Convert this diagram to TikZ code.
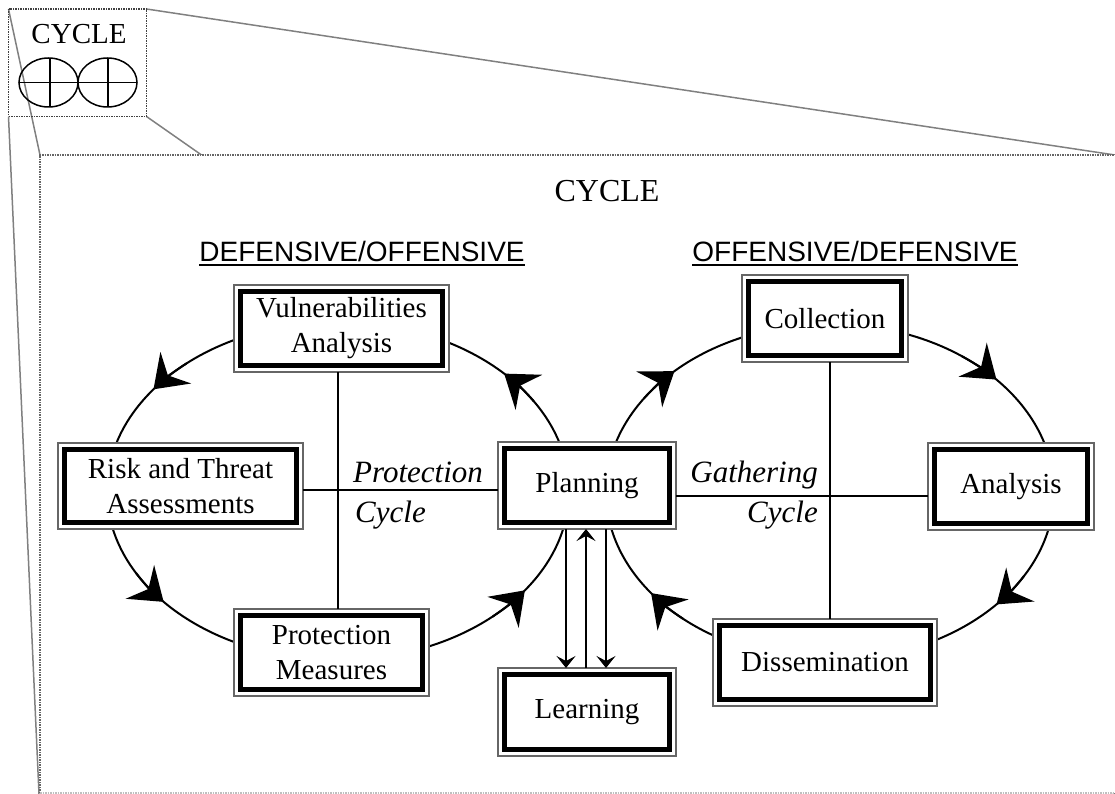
\documentclass[tikz,border=0pt]{standalone}
\usepackage{fontspec}
\setmainfont{Liberation Serif}
\newfontfamily\headfont{Liberation Sans}
\usetikzlibrary{arrows.meta,calc}
\begin{document}
\begin{tikzpicture}[x=1pt,y=-1pt,
  box/.style={draw=black!60, line width=1.6pt, fill=white, inner sep=0pt, outer sep=0pt, align=center,
    font=\fontsize{29}{35}\selectfont,
    path picture={\draw[black,line width=5pt]
      ([shift={(6.3pt,-6.3pt)}]path picture bounding box.north west) rectangle
      ([shift={(-6.3pt,6.3pt)}]path picture bounding box.south east);}},
  persp/.style={draw=black!50, line width=1.5pt},
  frame/.style={densely dotted, line width=1.5pt},
  cyc/.style={line width=2pt},
  cross/.style={line width=1.6pt},
  bighead/.style={line width=2pt, -{Stealth[length=31pt,width=44pt,inset=11pt]}},
  flow/.style={line width=1.8pt, -{Stealth[length=12pt,width=19pt,inset=5pt]}},
  lab/.style={font=\itshape\fontsize{31}{35}\selectfont, inner sep=0pt},
  head/.style={font=\headfont\fontsize{28}{32}\selectfont, inner sep=0pt, anchor=base},
  title/.style={inner sep=0pt}
]
\useasboundingbox (0,0) rectangle (1115,794);
% zoom frustum
\coordinate (sTL) at (8.5,9);
\coordinate (sTR) at (146.5,9);
\coordinate (sBL) at (8.5,116.5);
\coordinate (sBR) at (146.5,116.5);
\coordinate (bTL) at (40,155);
\coordinate (bTR) at (1115,155);
\coordinate (bBL) at (39,794);
\coordinate (bBR) at (1115,794);
\draw[persp] (sTL) -- (bTL);
\draw[persp] (sTR) -- (bTR);
\draw[persp] (sBL) -- (bBL);
\draw[persp] (sBR) -- (bBR);
\fill[white] (40,155) rectangle (1120,793);
\draw[frame, black!60] (40,793) -- (40,155) -- (1120,155);
\draw[frame, black!25] (40,793) -- (1120,793);
% small box
\draw[frame, black!75] (sTL) rectangle (sBR);
\node[title, font=\fontsize{29}{30}\selectfont] (sc) at (79,34) {CYCLE};
\draw[line width=1.5pt] (48.5,82.5) ellipse [x radius=29.5, y radius=24.5];
\draw[line width=1.5pt] (107.5,82.5) ellipse [x radius=29.5, y radius=24.5];
\draw[line width=1.2pt] (50,58) -- (50,107) (108,58) -- (108,107) (19,82.5) -- (137,82.5);
% titles
\node[title, font=\fontsize{32}{34}\selectfont] (bc) at (607,191) {CYCLE};
\node[head] (h1) at (362,261) {DEFENSIVE/OFFENSIVE};
\node[head] (h2) at (855,261) {OFFENSIVE/DEFENSIVE};
\draw[line width=2pt] ([yshift=-4pt]h1.base west) -- ([yshift=-4pt]h1.base east);
\draw[line width=2pt] ([yshift=-4pt]h2.base west) -- ([yshift=-4pt]h2.base east);
% cycles
\coordinate (lc) at (338,491);
\coordinate (rc) at (830,492);
\draw[cyc] (lc) ellipse [x radius=231, y radius=169];
\draw[cyc] (rc) ellipse [x radius=224, y radius=168];
\draw[bighead] ($(lc)+({231*cos(229)},{169*sin(229)})$) arc[start angle=229, end angle=217, x radius=231, y radius=169];
\draw[bighead] ($(lc)+({231*cos(151)},{169*sin(151)})$) arc[start angle=151, end angle=139, x radius=231, y radius=169];
\draw[bighead] ($(lc)+({231*cos(48)},{169*sin(48)})$) arc[start angle=48, end angle=36, x radius=231, y radius=169];
\draw[bighead] ($(lc)+({231*cos(328)},{169*sin(328)})$) arc[start angle=328, end angle=316, x radius=231, y radius=169];
\draw[bighead] ($(rc)+({224*cos(214)},{168*sin(214)})$) arc[start angle=214, end angle=226, x radius=224, y radius=168];
\draw[bighead] ($(rc)+({224*cos(306)},{168*sin(306)})$) arc[start angle=306, end angle=318, x radius=224, y radius=168];
\draw[bighead] ($(rc)+({224*cos(30)},{168*sin(30)})$) arc[start angle=30, end angle=42, x radius=224, y radius=168];
\draw[bighead] ($(rc)+({224*cos(131)},{168*sin(131)})$) arc[start angle=131, end angle=143, x radius=224, y radius=168];
% boxes
\node[box, minimum width=215pt, minimum height=87pt] (va) at (341.5,328.5) {Vulnerabilities\\Analysis};
\node[box, minimum width=245pt, minimum height=86pt] (rt) at (180.5,486) {Risk and Threat\\Assessments};
\node[box, minimum width=178pt, minimum height=87pt] (pl) at (587,485.5) {Planning};
\node[box, minimum width=195pt, minimum height=87pt] (pm) at (331.5,652.5) {Protection\\Measures};
\node[box, minimum width=178pt, minimum height=88pt] (le) at (587,712) {Learning};
\node[box, minimum width=166pt, minimum height=87pt] (co) at (825,318.5) {Collection};
\node[box, minimum width=166pt, minimum height=87pt] (an) at (1011,486.5) {Analysis};
\node[box, minimum width=224pt, minimum height=87pt] (di) at (825,662.5) {Dissemination};
% crosses
\coordinate (lx) at (338,490);
\coordinate (rx) at (830,496);
\draw[cross] (lx |- va.south) -- (lx |- pm.north);
\draw[cross] (rt.east |- lx) -- (pl.west |- lx);
\draw[cross] (rx |- co.south) -- (rx |- di.north);
\draw[cross] (pl.east |- rx) -- (an.west |- rx);
% planning <-> learning
\draw[flow] ([xshift=-21pt]pl.south) -- ([xshift=-21pt]le.north);
\draw[flow] ([xshift=-1pt]le.north) -- ([xshift=-1pt]pl.south);
\draw[flow] ([xshift=19pt]pl.south) -- ([xshift=19pt]le.north);
% labels
\node[lab, anchor=base west] (pc1) at (353,482) {Protection};
\node[lab, anchor=base west] (pc2) at (355,522) {Cycle};
\node[lab, anchor=base east] (gc1) at (818,482) {Gathering};
\node[lab, anchor=base east] (gc2) at (818,522) {Cycle};
\end{tikzpicture}
\end{document}
